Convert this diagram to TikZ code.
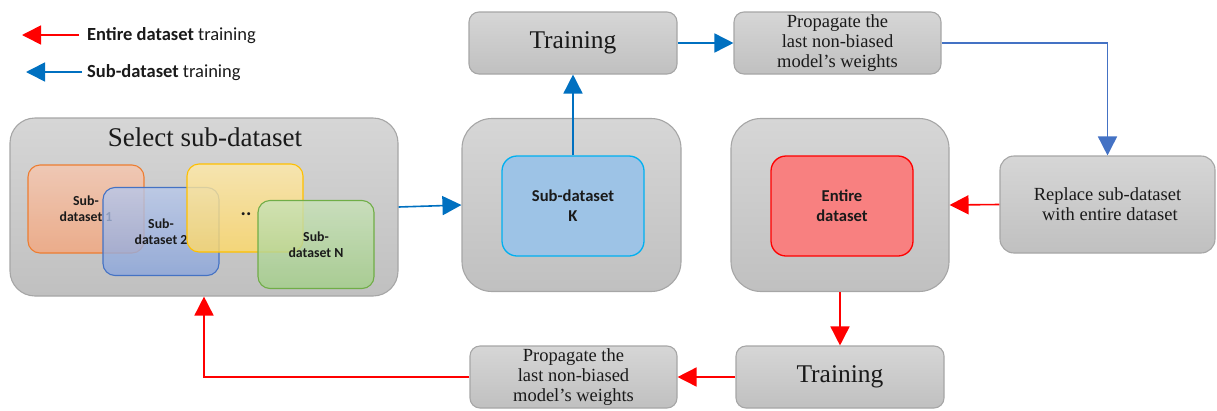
\documentclass[tikz,border=0pt]{standalone}
\usepackage{fontspec}
\setmainfont{Liberation Serif}
\newfontfamily\calfont{Carlito}
\usetikzlibrary{arrows.meta}
\definecolor{gborder}{HTML}{A6A6A6}
\definecolor{gtop}{HTML}{D6D6D6}
\definecolor{gbot}{HTML}{C0C0C0}
\definecolor{bluearr}{HTML}{0070C0}
\definecolor{bluearrlight}{HTML}{4472C4}
\definecolor{redarr}{HTML}{FF0000}
\definecolor{orgborder}{HTML}{ED7D31}
\definecolor{orgtop}{HTML}{F6C6AE}
\definecolor{orgbot}{HTML}{F5A67C}
\definecolor{bluborder}{HTML}{4472C4}
\definecolor{blutop}{HTML}{B8C8EA}
\definecolor{blubot}{HTML}{8AA5DC}
\definecolor{yelborder}{HTML}{FFC000}
\definecolor{yeltop}{HTML}{FFE9A8}
\definecolor{yelbot}{HTML}{FFD966}
\definecolor{grnborder}{HTML}{70AD47}
\definecolor{grntop}{HTML}{C8E2B8}
\definecolor{grnbot}{HTML}{A3CF88}
\definecolor{kfill}{HTML}{9DC3E6}
\definecolor{kborder}{HTML}{00B0F0}
\definecolor{efill}{HTML}{F88080}
\definecolor{eborder}{HTML}{FF0000}
\definecolor{txt}{HTML}{1A1A1A}
\begin{document}
\begin{tikzpicture}[x=1pt,y=-1pt,
  gbox/.style={draw=gborder, line width=1.1pt, top color=gtop, bottom color=gbot, inner sep=0pt, align=center, text=txt},
  bigserif/.style={font=\fontsize{25.5}{28}\selectfont},
  smallserif/.style={font=\fontsize{18.5}{20}\selectfont},
  subbox/.style={line width=1.1pt, inner sep=0pt, align=center, rounded corners=12pt,
    minimum width=116pt, minimum height=88pt, fill opacity=0.8, text opacity=1,
    font=\calfont\bfseries\fontsize{13.8}{16}\selectfont, text=txt},
  innerbox/.style={line width=1.3pt, inner sep=0pt, align=center, rounded corners=15pt,
    minimum width=142pt, minimum height=100pt, font=\calfont\bfseries\fontsize{16.6}{20}\selectfont, text=txt},
  bluearrow/.style={draw=bluearr, line width=1.6pt, -{Triangle[length=19pt,width=19pt]}},
  redarrow/.style={draw=redarr, line width=1.6pt, -{Triangle[length=19pt,width=19pt]}},
  legendtext/.style={anchor=west, font=\calfont\fontsize{18.5}{21}\selectfont, text=txt, inner sep=0pt}
]
\useasboundingbox (0,0) rectangle (1217,410);

% legend
\coordinate (lr1) at (79,35);
\coordinate (lr2) at (22,35);
\coordinate (lb1) at (82,72);
\coordinate (lb2) at (26,72);
\draw[redarrow] (lr1) -- (lr2);
\draw[bluearrow] (lb1) -- (lb2);
\node[legendtext] (legr) at (87,36) {\textbf{Entire dataset} training};
\node[legendtext] (legb) at (87,73) {\textbf{Sub-dataset} training};

% select sub-dataset
\node[gbox, rounded corners=25pt, minimum width=388pt, minimum height=178pt] (sel) at (204,207) {};
\node[font=\fontsize{27}{29}\selectfont, text=txt, inner sep=0pt] (seltitle) at (205,137) {Select sub-dataset};
\node[subbox, draw=orgborder, top color=orgtop, bottom color=orgbot] (sub1) at (86,209) {Sub-\\dataset 1};
\node[subbox, draw=bluborder, top color=blutop, bottom color=blubot] (sub2) at (161,231.5) {Sub-\\dataset 2};
\node[subbox, draw=yelborder, top color=yeltop, bottom color=yelbot] (sub3) at (245,208) {};
\node[font=\calfont\bfseries\fontsize{20}{20}\selectfont, text=txt, inner sep=0pt] (dots) at (246,214) {..};
\node[subbox, draw=grnborder, top color=grntop, bottom color=grnbot] (sub4) at (316,244.5) {Sub-\\dataset N};

% sub-dataset K
\node[gbox, rounded corners=30pt, minimum width=219pt, minimum height=173pt] (kout) at (571.5,205) {};
\node[innerbox, draw=kborder, fill=kfill] (kin) at (573,206) {Sub-dataset\\K};

% top row
\node[gbox, rounded corners=10pt, minimum width=208pt, minimum height=62pt, bigserif] (train1) at (573,43) {Training};
\node[gbox, rounded corners=10pt, minimum width=207pt, minimum height=62pt, smallserif] (prop1) at (837.5,43) {Propagate the\\last non-biased\\model’s weights};

% entire dataset
\node[gbox, rounded corners=30pt, minimum width=218pt, minimum height=173pt] (eout) at (840,205) {};
\node[innerbox, draw=eborder, fill=efill] (ein) at (842,206) {Entire\\dataset};

% replace
\node[gbox, rounded corners=14pt, minimum width=215pt, minimum height=97pt, smallserif] (repl) at (1107.5,204.5) {Replace sub-dataset\\\ with entire dataset};

% bottom row
\node[gbox, rounded corners=10pt, minimum width=208pt, minimum height=62pt, bigserif] (train2) at (840,377) {Training};
\node[gbox, rounded corners=10pt, minimum width=207pt, minimum height=62pt, smallserif] (prop2) at (573.5,377) {Propagate the\\last non-biased\\model’s weights};

% connectors
\draw[bluearrow] (sel.east) -- (kout.west);
\draw[bluearrow] (kin.north) -- (train1.south);
\draw[bluearrow] (train1.east) -- (prop1.west);
\draw[bluearrow, draw=bluearrlight] (prop1.east) -| (repl.north);
\draw[redarrow] (repl.west) -- (eout.east);
\draw[redarrow] (eout.south) -- (train2.north);
\draw[redarrow] (train2.west) -- (prop2.east);
\draw[redarrow] (prop2.west) -| (sel.south);
\end{tikzpicture}
\end{document}
